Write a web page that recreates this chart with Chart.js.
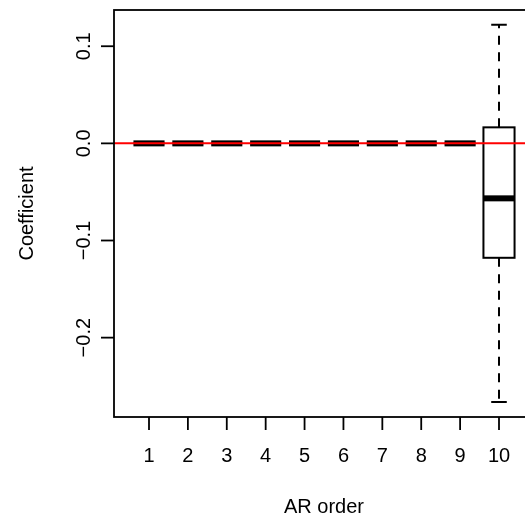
<!DOCTYPE html>
<html>
<head>
<meta charset="utf-8">
<script src="https://cdn.jsdelivr.net/npm/chart.js@4/dist/chart.umd.min.js"></script>
<style>
  html, body { margin: 0; padding: 0; background: #fff; overflow: hidden; }
  #wrap { width: 525px; height: 518px; overflow: hidden; }
</style>
</head>
<body>
<div id="wrap"><canvas id="chart" width="560" height="518"></canvas></div>
<script>
// AR coefficient distribution per order (box stats)
const arOrder = [1, 2, 3, 4, 5, 6, 7, 8, 9, 10];
const upperWhisker = [0, 0, 0, 0, 0, 0, 0, 0, 0, 0.122];
const upperQuartile = [0, 0, 0, 0, 0, 0, 0, 0, 0, 0.0165];
const medians = [0, 0, 0, 0, 0, 0, 0, 0, 0, -0.0566];
const lowerQuartile = [0, 0, 0, 0, 0, 0, 0, 0, 0, -0.1178];
const lowerWhisker = [0, 0, 0, 0, 0, 0, 0, 0, 0, -0.2662];
const yTicks = [-0.2, -0.1, 0.0, 0.1];
const yTickLabels = ['\u22120.2', '\u22120.1', '0.0', '0.1'];
const refLine = 0;

const FONT = '20px "Liberation Sans", Arial, Helvetica, sans-serif';

const boxplotPlugin = {
    id: 'boxplot',
    afterDraw(chart) {
        const ctx = chart.ctx;
        const area = chart.chartArea;
        const xs = chart.scales.x;
        const ys = chart.scales.y;
        ctx.save();
        ctx.strokeStyle = '#000';
        ctx.lineCap = 'butt';

        // boxes
        arOrder.forEach((k, i) => {
            const cx = xs.getPixelForValue(k);
            const x0 = xs.getPixelForValue(k - 0.4);
            const x1 = xs.getPixelForValue(k + 0.4);
            const c0 = xs.getPixelForValue(k - 0.2);
            const c1 = xs.getPixelForValue(k + 0.2);
            const yUp = ys.getPixelForValue(upperWhisker[i]);
            const yQ3 = ys.getPixelForValue(upperQuartile[i]);
            const yMed = ys.getPixelForValue(medians[i]);
            const yQ1 = ys.getPixelForValue(lowerQuartile[i]);
            const yLo = ys.getPixelForValue(lowerWhisker[i]);

            // whiskers
            ctx.lineWidth = 2;
            ctx.setLineDash([9, 7.5]);
            ctx.beginPath();
            ctx.moveTo(cx, yQ3); ctx.lineTo(cx, yUp);
            ctx.moveTo(cx, yQ1); ctx.lineTo(cx, yLo);
            ctx.stroke();
            ctx.setLineDash([]);
            // caps
            ctx.beginPath();
            ctx.moveTo(c0, yUp); ctx.lineTo(c1, yUp);
            ctx.moveTo(c0, yLo); ctx.lineTo(c1, yLo);
            ctx.stroke();
            // box
            ctx.fillStyle = '#fff';
            ctx.fillRect(x0, yQ3, x1 - x0, yQ1 - yQ3);
            ctx.strokeRect(x0, yQ3, x1 - x0, yQ1 - yQ3);
            // median
            ctx.lineWidth = 6;
            ctx.beginPath();
            ctx.moveTo(x0, yMed); ctx.lineTo(x1, yMed);
            ctx.stroke();
        });

        // reference line at 0
        const yRef = ys.getPixelForValue(refLine);
        ctx.strokeStyle = '#ff0000';
        ctx.lineWidth = 2;
        ctx.beginPath();
        ctx.moveTo(area.left, yRef); ctx.lineTo(area.right, yRef);
        ctx.stroke();

        // frame
        ctx.strokeStyle = '#000';
        ctx.lineWidth = 1.8;
        ctx.strokeRect(area.left, area.top, area.right - area.left, area.bottom - area.top);

        // axes ticks + labels
        ctx.fillStyle = '#000';
        ctx.font = FONT;
        ctx.lineWidth = 1.8;
        ctx.textAlign = 'center';
        ctx.textBaseline = 'middle';
        arOrder.forEach(k => {
            const px = xs.getPixelForValue(k);
            ctx.beginPath();
            ctx.moveTo(px, area.bottom); ctx.lineTo(px, area.bottom + 13);
            ctx.stroke();
            ctx.fillText(String(k), px, 456);
        });
        yTicks.forEach((v, i) => {
            const py = ys.getPixelForValue(v);
            ctx.beginPath();
            ctx.moveTo(area.left - 13, py); ctx.lineTo(area.left, py);
            ctx.stroke();
            ctx.save();
            ctx.translate(84, py);
            ctx.rotate(-Math.PI / 2);
            ctx.fillText(yTickLabels[i], 0, 0);
            ctx.restore();
        });

        // axis titles
        ctx.fillText('AR order', (area.left + area.right) / 2, 507);
        ctx.save();
        ctx.translate(27, (area.top + area.bottom) / 2);
        ctx.rotate(-Math.PI / 2);
        ctx.fillText('Coefficient', 0, 0);
        ctx.restore();
        ctx.restore();
    }
};

new Chart(document.getElementById('chart'), {
    type: 'scatter',
    data: {
        datasets: [{
            data: arOrder.map((k, i) => ({ x: k, y: medians[i] })),
            pointRadius: 0,
            pointHoverRadius: 0
        }]
    },
    options: {
        responsive: false,
        devicePixelRatio: 1,
        animation: false,
        events: [],
        layout: { padding: { left: 114, top: 10, right: 26, bottom: 101 } },
        plugins: { legend: { display: false }, tooltip: { enabled: false } },
        scales: {
            x: { type: 'linear', min: 0.1, max: 10.9, display: false },
            y: { type: 'linear', min: -0.2817, max: 0.1373, display: false }
        }
    },
    plugins: [boxplotPlugin]
});
</script>
</body>
</html>
